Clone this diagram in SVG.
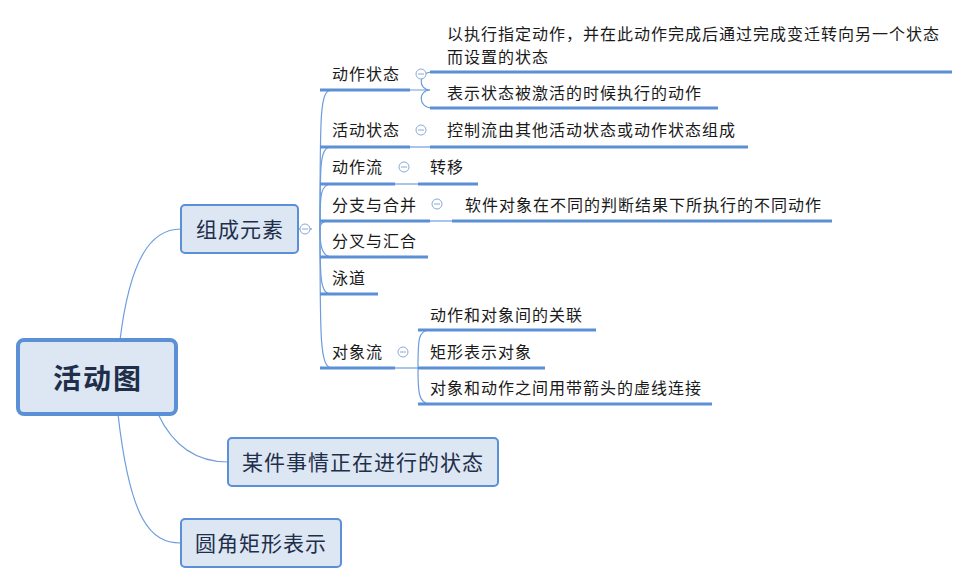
<svg xmlns="http://www.w3.org/2000/svg" width="970" height="584" viewBox="0 0 970 584">
<style>
text{font-family:"Liberation Sans","Noto Sans CJK SC",sans-serif;fill:#1a1a1a}
.t{font-size:16px;letter-spacing:1px}
.m{font-size:21px;letter-spacing:1px;fill:#1f2f4a}
.box{fill:#dde6f3;stroke:#5b8fd6;stroke-width:2}
.c{fill:none;stroke:#6d9ddc;stroke-width:1.2}
.u{fill:none;stroke:#5b8fd6;stroke-width:3}
.col{fill:#fff;stroke:#8aa9d6;stroke-width:1}
.cm{stroke:#8aa9d6;stroke-width:1}
</style>
<rect width="970" height="584" fill="#fff"/>
<g id="connectors">
<path class="c" d="M120,340 C130,260 150,229 181,229"/>
<path class="c" d="M158,414 C175,450 200,462 228,462"/>
<path class="c" d="M118,414 C130,520 150,543 181,543"/>
<path class="c" d="M298,229 H312"/>
<path class="c" d="M320,229 C320,110 320,90 332,90"/>
<path class="c" d="M320,229 C320,160 320,147 332,147"/>
<path class="c" d="M320,229 C320,195 320,184 332,184"/>
<path class="c" d="M320,229 C320,225 320,221 332,221"/>
<path class="c" d="M320,229 C320,240 320,257 332,257"/>
<path class="c" d="M320,229 C320,280 320,294 332,294"/>
<path class="c" d="M320,229 C320,340 320,368 332,368"/>
<path class="c" d="M410,90 H430 M430,90 C418,90 418,72 432,72"/>
<path class="c" d="M430,90 C418,90 418,108 432,108"/>
<path class="c" d="M410,147 H430"/>
<path class="c" d="M395,184 H418"/>
<path class="c" d="M430,221 H452"/>
<path class="c" d="M395,368 H418"/>
<path class="c" d="M418,368 C418,340 418,330 430,330"/>
<path class="c" d="M418,368 C418,390 418,404 430,404"/>
<path class="u" d="M320,90 H410 M430,72 H952 M430,108 H718 M320,147 H410 M430,147 H748 M320,184 H395 M418,184 H478 M320,221 H430 M452,221 H832 M320,257 H428 M320,294 H378 M320,368 H395 M418,330 H596 M418,368 H545 M418,404 H712"/>
</g>
<g id="root"><rect x="18" y="340" width="158" height="74" rx="6" fill="#dde6f3" stroke="#5b8fd6" stroke-width="4"/><text x="98" y="389" text-anchor="middle" style="font-size:28px;letter-spacing:2px;font-weight:bold;fill:#1f2f4a">活动图</text></g>
<g id="n1"><rect class="box" x="181" y="205" width="117" height="48" rx="4"/><text class="m" x="240" y="237" text-anchor="middle">组成元素</text></g>
<g id="n2"><rect class="box" x="228" y="438" width="270" height="48" rx="4"/><text class="m" x="363" y="470" text-anchor="middle">某件事情正在进行的状态</text></g>
<g id="n3"><rect class="box" x="181" y="519" width="160" height="48" rx="4"/><text class="m" x="261" y="551" text-anchor="middle">圆角矩形表示</text></g>
<g id="collapse">
<circle class="col" cx="305" cy="229" r="5"/><path class="cm" d="M302,229 H308"/>
<circle class="col" cx="421" cy="74" r="5"/><path class="cm" d="M418,74 H424"/>
<circle class="col" cx="421" cy="130" r="5"/><path class="cm" d="M418,130 H424"/>
<circle class="col" cx="404" cy="167" r="5"/><path class="cm" d="M401,167 H407"/>
<circle class="col" cx="437" cy="204" r="5"/><path class="cm" d="M434,204 H440"/>
<circle class="col" cx="403" cy="352" r="5"/><path class="cm" d="M400,352 H406"/>
</g>
<g id="labels">
<text class="t" x="332" y="80">动作状态</text>
<text class="t" x="447" y="40">以执行指定动作，并在此动作完成后通过完成变迁转向另一个状态</text>
<text class="t" x="447" y="63">而设置的状态</text>
<text class="t" x="447" y="99">表示状态被激活的时候执行的动作</text>
<text class="t" x="332" y="136">活动状态</text>
<text class="t" x="447" y="136">控制流由其他活动状态或动作状态组成</text>
<text class="t" x="332" y="173">动作流</text>
<text class="t" x="430" y="173">转移</text>
<text class="t" x="332" y="211">分支与合并</text>
<text class="t" x="465" y="211">软件对象在不同的判断结果下所执行的不同动作</text>
<text class="t" x="332" y="247">分叉与汇合</text>
<text class="t" x="332" y="284">泳道</text>
<text class="t" x="332" y="358">对象流</text>
<text class="t" x="430" y="321">动作和对象间的关联</text>
<text class="t" x="430" y="358">矩形表示对象</text>
<text class="t" x="430" y="394">对象和动作之间用带箭头的虚线连接</text>
</g>
</svg>
